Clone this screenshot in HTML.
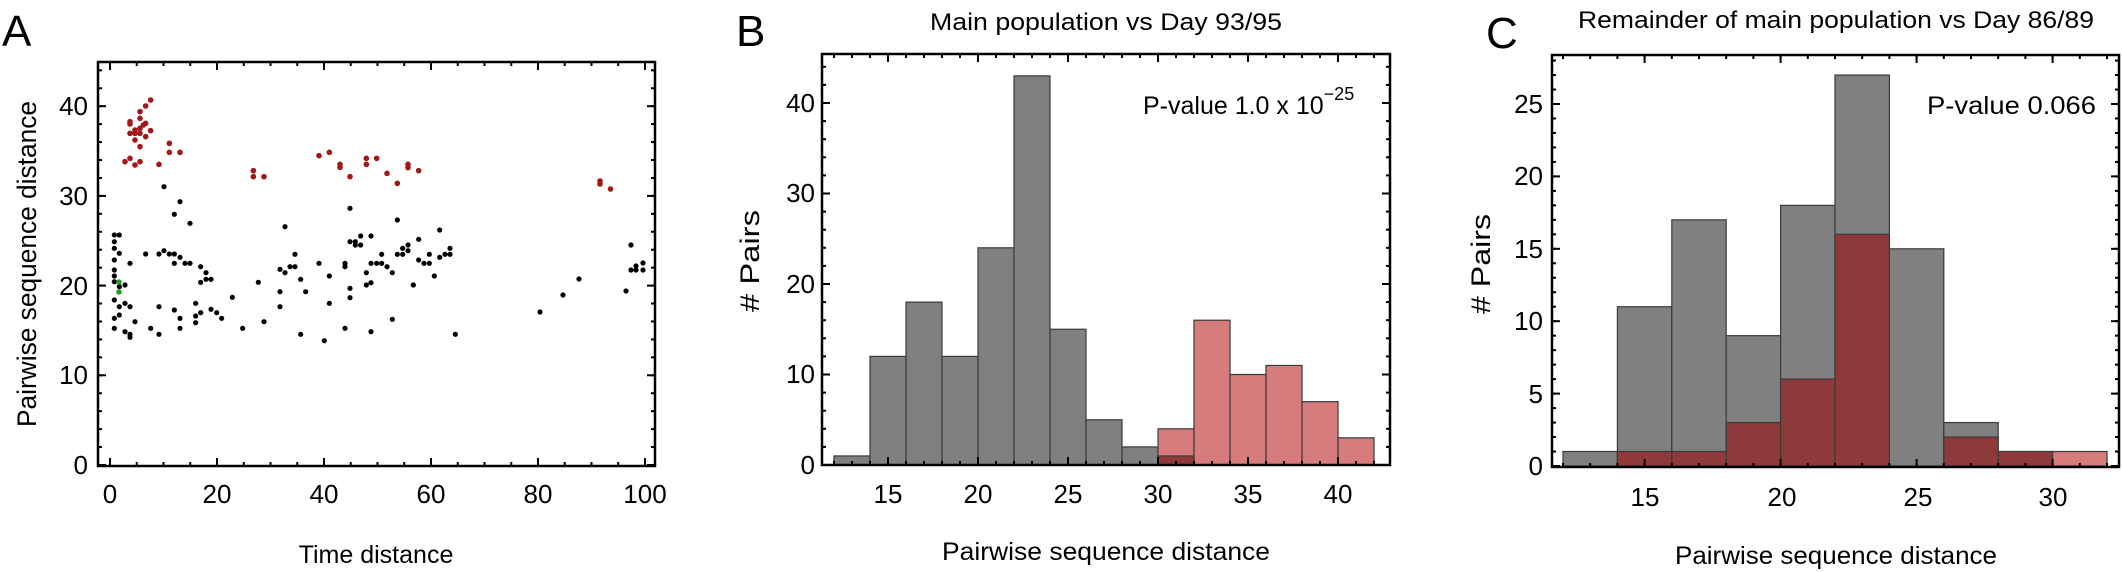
<!DOCTYPE html>
<html><head><meta charset="utf-8"><style>
html,body{margin:0;padding:0;background:#fff}
svg{display:block;font-family:"Liberation Sans",Arial,sans-serif}
</style></head><body>
<svg id="s" width="2122" height="572" viewBox="0 0 2122 572" xmlns="http://www.w3.org/2000/svg">
<g id="plots"></g>
<g font-size="26" fill="#000">
<!-- Panel letters -->
<text x="2" y="46" font-size="44">A</text>
<text x="736" y="46" font-size="44">B</text>
<text x="1486" y="48" font-size="44">C</text>
<!-- Titles -->
<text x="1106" y="30" text-anchor="middle" font-size="24" textLength="352" lengthAdjust="spacingAndGlyphs">Main population vs Day 93/95</text>
<text x="1836" y="28" text-anchor="middle" font-size="24" textLength="516" lengthAdjust="spacingAndGlyphs">Remainder of main population vs Day 86/89</text>
<!-- A ticks -->
<g text-anchor="end">
<text x="88" y="474">0</text><text x="88" y="384">10</text><text x="88" y="295">20</text><text x="88" y="205">30</text><text x="88" y="115">40</text>
</g>
<g text-anchor="middle">
<text x="110" y="503">0</text><text x="217" y="503">20</text><text x="324" y="503">40</text><text x="431" y="503">60</text><text x="538" y="503">80</text><text x="645" y="503">100</text>
</g>
<text x="376" y="563" text-anchor="middle" font-size="25">Time distance</text>
<text transform="translate(36,264) rotate(-90)" text-anchor="middle" font-size="27" textLength="326" lengthAdjust="spacingAndGlyphs">Pairwise sequence distance</text>
<!-- B ticks -->
<g text-anchor="end">
<text x="815" y="474">0</text><text x="815" y="383">10</text><text x="815" y="293">20</text><text x="815" y="202">30</text><text x="815" y="112">40</text>
</g>
<g text-anchor="middle">
<text x="888" y="503">15</text><text x="978" y="503">20</text><text x="1068" y="503">25</text><text x="1158" y="503">30</text><text x="1248" y="503">35</text><text x="1338" y="503">40</text>
</g>
<text x="1106" y="560" text-anchor="middle" font-size="25" textLength="328" lengthAdjust="spacingAndGlyphs">Pairwise sequence distance</text>
<text transform="translate(759,261) rotate(-90)" text-anchor="middle" font-size="27" textLength="102" lengthAdjust="spacingAndGlyphs"># Pairs</text>
<text x="1143" y="114" font-size="25">P-value 1.0 x 10<tspan dy="-14" font-size="18">−25</tspan></text>
<!-- C ticks -->
<g text-anchor="end">
<text x="1543" y="475">0</text><text x="1543" y="403">5</text><text x="1543" y="330">10</text><text x="1543" y="258">15</text><text x="1543" y="185">20</text><text x="1543" y="113">25</text>
</g>
<g text-anchor="middle">
<text x="1645" y="506">15</text><text x="1782" y="506">20</text><text x="1918" y="506">25</text><text x="2053" y="506">30</text>
</g>
<text x="1836" y="564" text-anchor="middle" font-size="25" textLength="322" lengthAdjust="spacingAndGlyphs">Pairwise sequence distance</text>
<text transform="translate(1490,264) rotate(-90)" text-anchor="middle" font-size="27" textLength="100" lengthAdjust="spacingAndGlyphs"># Pairs</text>
<text x="2096" y="114" text-anchor="end" font-size="25" textLength="169" lengthAdjust="spacingAndGlyphs">P-value 0.066</text>
</g>
</svg>
<script>
(function(){
var NS="http://www.w3.org/2000/svg",g=document.getElementById("plots");
function el(t,a){var e=document.createElementNS(NS,t);for(var k in a)e.setAttribute(k,a[k]);g.appendChild(e);return e;}
function rect(x1,y1,x2,y2,f){el("rect",{x:x1,y:y1,width:x2-x1,height:y2-y1,fill:f,stroke:"#3a3a3a","stroke-width":1.2});}
// Panel B bars
var bx=function(v){return 834+18*(v-12);},by=function(v){return 465-9.05*v;};
var bg=[1,12,18,12,24,43,15,5,2,1];
for(var i=0;i<bg.length;i++){if(bg[i])rect(bx(12+2*i),by(bg[i]),bx(14+2*i),465,"#808080");}
var br=[4,16,10,11,7,3];
for(var i=0;i<br.length;i++){rect(bx(30+2*i),by(br[i]),bx(32+2*i),465,"#d77c7c");}
rect(bx(30),by(1),bx(32),465,"#8e3a3a");
// Panel C bars
var cx=function(v){return 1563+27.2*(v-12);},cy=function(v){return 466-14.48*v;};
var cg=[1,11,17,9,18,27,15,3,1,0],cr=[0,1,1,3,6,16,0,2,1,1];
for(var i=0;i<10;i++){if(cg[i])rect(cx(12+2*i),cy(cg[i]),cx(14+2*i),466,"#808080");}
for(var i=0;i<10;i++){if(cr[i])rect(cx(12+2*i),cy(cr[i]),cx(14+2*i),466,cg[i]?"#8e3a3a":"#d77c7c");}
// scatter
var red=[[375,485],[390,475],[390,365],[390,372],[390,400],[405,495],[405,420],[405,400],[405,390],[420,485],[420,440],[420,400],[420,385],[420,355],[420,335],[430,375],[437,410],[437,370],[437,318],[452,300],[452,392],[477,493],[508,430],[508,457],[540,457],[760,512],[760,530],[792,530],[957,467],[988,457],[1020,493],[1020,502],[1050,530],[1099,475],[1099,493],[1130,475],[1161,520],[1192,550],[1224,493],[1224,503],[1256,512]];
var blk=[[343,705],[358,705],[343,725],[343,745],[358,760],[343,780],[343,810],[343,828],[343,845],[358,860],[375,855],[343,900],[375,910],[358,920],[390,920],[343,955],[358,945],[405,965],[343,985],[375,995],[390,1003],[390,1012],[390,790],[437,762],[452,985],[477,1003],[477,920],[477,762],[492,752],[508,762],[523,762],[523,790],[540,772],[555,790],[570,790],[492,560],[523,643],[540,605],[570,670],[523,930],[540,955],[540,985],[587,910],[587,948],[587,968],[602,938],[602,800],[602,847],[618,818],[618,838],[633,838],[633,928],[650,938],[665,955],[697,892],[728,985],[775,847],[792,965],[840,808],[840,875],[840,920],[855,680],[855,818],[870,800],[885,800],[885,763],[902,838],[902,1003],[917,875],[957,790],[973,1022],[988,828],[988,910],[1035,790],[1035,800],[1035,985],[1050,625],[1050,865],[1050,893],[1050,725],[1066,725],[1066,735],[1082,708],[1082,735],[1099,818],[1099,855],[1113,848],[1113,708],[1113,790],[1113,995],[1130,790],[1145,790],[1145,763],[1161,800],[1177,818],[1177,958],[1192,660],[1192,763],[1208,763],[1208,745],[1224,735],[1224,752],[1240,855],[1256,718],[1256,780],[1272,790],[1288,790],[1288,763],[1303,828],[1319,690],[1319,772],[1335,763],[1350,763],[1350,745],[1366,1003]];
red.forEach(function(p){el("circle",{cx:p[0]/3,cy:p[1]/3,r:2.8,fill:"#a01818"});});
[[600,181],[600,184],[610.5,189]].forEach(function(p){el("circle",{cx:p[0],cy:p[1],r:2.8,fill:"#a01818"});});
blk.forEach(function(p){el("circle",{cx:p[0]/3,cy:p[1]/3,r:2.6,fill:"#000"});});
[[540,312],[563,295],[579,279],[626,291],[631,245],[631,270],[636,266],[636,270],[643,263],[643,270]].forEach(function(p){el("circle",{cx:p[0],cy:p[1],r:2.6,fill:"#000"});});
[[119,282],[119,292]].forEach(function(p){el("circle",{cx:p[0],cy:p[1],r:2.8,fill:"#2a9a2a"});});
// frames & ticks
function frame(L,T,R,B,xm,ym,xmaj,xmin,ymaj,ymin){
 el("rect",{x:L,y:T,width:R-L,height:B-T,fill:"none",stroke:"#000","stroke-width":2.5});
 function tx(v,len){var x=xm(v);if(x<L+1||x>R-1)return;el("line",{x1:x,y1:B,x2:x,y2:B-len,stroke:"#000","stroke-width":2});el("line",{x1:x,y1:T,x2:x,y2:T+len,stroke:"#000","stroke-width":2});}
 function ty(v,len){var y=ym(v);if(y<T+1||y>B-1)return;el("line",{x1:L,y1:y,x2:L+len,y2:y,stroke:"#000","stroke-width":2});el("line",{x1:R,y1:y,x2:R-len,y2:y,stroke:"#000","stroke-width":2});}
 for(var v=xmin[0];v<=xmin[1];v+=xmin[2])tx(v,4);
 for(var v=xmaj[0];v<=xmaj[1];v+=xmaj[2])tx(v,8);
 for(var v=ymin[0];v<=ymin[1];v+=ymin[2])ty(v,4);
 for(var v=ymaj[0];v<=ymaj[1];v+=ymaj[2])ty(v,8);
}
frame(98,62,655,466,function(v){return 110+5.35*v},function(v){return 465-8.97*v},[0,100,20],[0,100,5],[0,40,10],[0,44,2]);
frame(822,54,1390,465,bx,by,[15,40,5],[12,42,1],[0,40,10],[0,44,2]);
frame(1552,55,2119,467,cx,cy,[15,30,5],[12,32,1],[0,25,5],[0,28,1]);
})();
</script>
</body></html>
